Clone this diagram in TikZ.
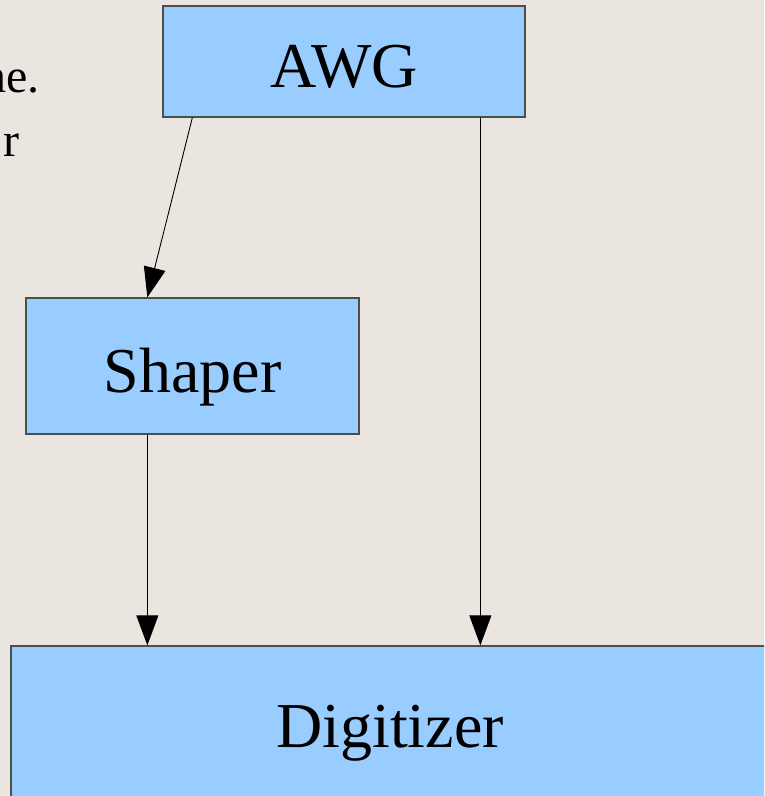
\documentclass[tikz,border=0pt]{standalone}
\usepackage{fontspec}
\setmainfont{Liberation Serif}
\usetikzlibrary{arrows.meta,calc}
\definecolor{bg}{HTML}{EAE6DF}
\definecolor{boxfill}{HTML}{99CCFF}
\definecolor{boxline}{HTML}{4D4D4D}
\begin{document}
\begin{tikzpicture}[x=1pt,y=-1pt,
  block/.style={draw=boxline,line width=1.3pt,fill=boxfill,inner sep=0pt,
    font=\fontsize{64}{70}\selectfont,text=black,text height=52pt,text depth=0pt},
  conn/.style={line width=0.9pt,-{Triangle[length=30pt,width=22pt]}},
  side/.style={font=\fontsize{48}{58}\selectfont,inner sep=0pt}]
\useasboundingbox (0,0) rectangle (764,796);
\clip (0,0) rectangle (764,796);
\fill[bg] (0,0) rectangle (764,796);
\node[block,minimum width=362pt,minimum height=111pt] (awg) at (344,61.5) {AWG};
\node[block,minimum width=333pt,minimum height=136pt] (shaper) at (192.5,366) {Shaper};
\node[block,minimum width=758pt,minimum height=162pt,text height=40pt] (dig) at (390,727) {Digitizer};
\node[side,anchor=base east] (t1) at (40,92) {ne.};
\node[side,anchor=base east] (t2) at (20,156) {r};
\draw[conn] ($(awg.south west)+(30,0)$) -- ($(shaper.north west)+(122,0)$);
\draw[conn] ($(awg.south west)+(318,0)$) -- ($(dig.north west)+(470,0)$);
\draw[conn] ($(shaper.south west)+(122,0)$) -- ($(dig.north west)+(137,0)$);
\end{tikzpicture}
\end{document}
